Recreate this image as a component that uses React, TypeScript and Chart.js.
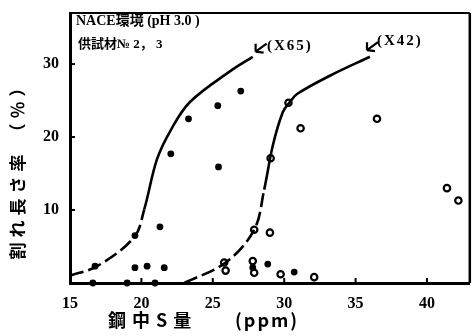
import React, { useEffect, useRef } from "react";
import { Chart, registerables } from "chart.js";
Chart.register(...registerables);

// axis ticks
const xTicks = [15, 20, 25, 30, 35, 40];
const yTicks = [10, 20, 30];

// X65 specimens (filled dots)
const x65X = [16.6, 19.0, 20.95, 16.75, 19.55, 19.55, 20.4, 21.6, 21.3, 22.06, 23.3, 25.35, 25.4, 26.96, 27.8, 28.85, 30.7];
const x65Y = [0, 0, 0, 2.3, 6.5, 2.1, 2.3, 2.1, 7.7, 17.7, 22.5, 24.3, 15.9, 26.3, 2.1, 2.6, 1.5];

// X42 specimens (open circles)
const x42X = [25.8, 25.9, 27.8, 27.9, 27.9, 29.0, 29.05, 29.75, 30.3, 31.15, 32.1, 36.5, 41.4, 42.2];
const x42Y = [2.8, 1.7, 3.0, 1.4, 7.3, 6.9, 17.1, 1.2, 24.7, 21.2, 0.8, 22.5, 13.0, 11.3];

// hand-drawn trend curves
const curve65X = [15, 16.9, 19.5, 20.2, 21.1, 22.1, 23.4, 26.2, 27.8];
const curve65Y = [1.0, 2.3, 6.3, 10.1, 17.0, 21.1, 24.8, 29.0, 31.0];
const curve42X = [23.0, 25.9, 27.9, 28.6, 29.2, 29.9, 30.4, 30.9, 33.2, 36.0];
const curve42Y = [0, 2.8, 7.3, 12.8, 18.8, 23.4, 24.8, 25.9, 28.4, 31.0];

const zip = (xs: number[], ys: number[]) => xs.map((x, i) => ({ x, y: ys[i] }));

const SERIF = "'Liberation Serif', 'Noto Sans CJK JP', serif";
const CJK = "'Noto Sans CJK JP', 'Liberation Serif', sans-serif";

const overlay = {
  id: "overlay",
  afterDraw(chart: any) {
    const { ctx, chartArea, scales } = chart;
    const xs = scales.x, ys = scales.y;
    ctx.save();
    ctx.strokeStyle = "#000";
    ctx.fillStyle = "#000";
    // frame top / right
    ctx.lineWidth = 2;
    ctx.beginPath();
    ctx.moveTo(chartArea.left, chartArea.top);
    ctx.lineTo(chartArea.right, chartArea.top);
    ctx.stroke();
    ctx.lineWidth = 2.5;
    ctx.beginPath();
    ctx.moveTo(chartArea.right, chartArea.top);
    ctx.lineTo(chartArea.right, chartArea.bottom);
    ctx.stroke();
    // inside tick marks
    ctx.lineWidth = 2;
    for (const v of xTicks) {
      if (v === 15) continue;
      const px = xs.getPixelForValue(v);
      ctx.beginPath();
      ctx.moveTo(px, chartArea.bottom);
      ctx.lineTo(px, chartArea.bottom - 5);
      ctx.stroke();
    }
    for (const v of yTicks) {
      const py = ys.getPixelForValue(v);
      ctx.beginPath();
      ctx.moveTo(chartArea.left, py);
      ctx.lineTo(chartArea.left + 5, py);
      ctx.stroke();
    }
    // annotation texts
    ctx.textBaseline = "middle";
    ctx.textAlign = "left";
    ctx.font = `bold 14px ${SERIF}`;
    ctx.fillText("NACE環境 (pH 3.0 )", chartArea.left + 6, chartArea.top + 8);
    ctx.font = `bold 13px ${SERIF}`;
    ctx.fillText("供試材№ 2， 3", chartArea.left + 8, chartArea.top + 32);
    ctx.font = `bold 15px ${SERIF}`;
    (ctx as any).letterSpacing = "2px";
    ctx.fillText("(X65)", xs.getPixelForValue(28.8), ys.getPixelForValue(32.5));
    ctx.fillText("(X42)", xs.getPixelForValue(36.5), ys.getPixelForValue(33.1));
    (ctx as any).letterSpacing = "0px";
    // arrows
    const arrow = (dx: number, dy: number) => {
      const tx = xs.getPixelForValue(dx), ty = ys.getPixelForValue(dy);
      ctx.lineWidth = 2.2;
      ctx.beginPath();
      ctx.moveTo(tx, ty);
      ctx.lineTo(tx + 11, ty - 8);
      ctx.moveTo(tx, ty);
      ctx.lineTo(tx, ty - 8);
      ctx.moveTo(tx, ty);
      ctx.lineTo(tx + 8, ty + 1);
      ctx.stroke();
    };
    arrow(28.0, 31.7);
    arrow(35.8, 31.9);
    // axis titles
    ctx.font = `bold 18px ${CJK}`;
    ctx.textAlign = "left";
    (ctx as any).letterSpacing = "6px";
    ctx.fillText("鋼中S量", 108, 320);
    (ctx as any).letterSpacing = "2px";
    ctx.fillText("(ppm)", 235, 320);
    ctx.translate(18, 167);
    ctx.rotate(-Math.PI / 2);
    ctx.textAlign = "center";
    (ctx as any).letterSpacing = "5px";
    ctx.font = `bold 17px ${CJK}`;
    ctx.fillText("割れ長さ率 （％）", 0, 0);
    ctx.restore();
  },
};

export default function App() {
  const ref = useRef<HTMLCanvasElement>(null);
  useEffect(() => {
    document.body.style.margin = "0";
    const chart = new Chart(ref.current!, {
      type: "scatter",
      data: {
        datasets: [
          {
            data: zip(curve65X, curve65Y),
            showLine: true,
            borderColor: "#000",
            borderWidth: 2.6,
            pointRadius: 0,
            tension: 0.35,
            segment: { borderDash: (c: any) => (c.p1.parsed.y <= 10.2 ? [14, 5] : undefined) },
          },
          {
            data: zip(curve42X, curve42Y),
            showLine: true,
            borderColor: "#000",
            borderWidth: 2.6,
            pointRadius: 0,
            tension: 0.35,
            segment: { borderDash: (c: any) => (c.p1.parsed.y <= 13 ? [14, 5] : undefined) },
          },
          {
            data: zip(x65X, x65Y),
            backgroundColor: "#000",
            borderColor: "#000",
            pointRadius: 3.4,
            borderWidth: 0,
            clip: false,
          } as any,
          {
            data: zip(x42X, x42Y),
            backgroundColor: "#fff",
            borderColor: "#000",
            pointRadius: 3.2,
            borderWidth: 2.2,
            clip: false,
          } as any,
        ],
      },
      options: {
        animation: false,
        responsive: false,
        events: [],
        layout: { padding: { top: 13, right: 4, left: 0, bottom: 0 } },
        plugins: { legend: { display: false }, tooltip: { enabled: false } },
        scales: {
          x: {
            type: "linear",
            min: 15,
            max: 43,
            afterBuildTicks: (s: any) => { s.ticks = xTicks.map((v) => ({ value: v })); },
            afterFit: (s: any) => { s.height = 53; },
            grid: { display: false },
            border: { display: true, color: "#000", width: 3 },
            ticks: { color: "#000", font: { family: SERIF, size: 16, weight: "bold" }, padding: 3, maxRotation: 0 },
          },
          y: {
            type: "linear",
            min: 0,
            max: 37,
            afterBuildTicks: (s: any) => { s.ticks = yTicks.map((v) => ({ value: v })); },
            afterFit: (s: any) => { s.width = 70; },
            grid: { display: false },
            border: { display: true, color: "#000", width: 3 },
            ticks: { color: "#000", font: { family: SERIF, size: 16, weight: "bold" }, padding: 3 },
          },
        },
      },
      plugins: [overlay],
    });
    return () => chart.destroy();
  }, []);
  return (
    <div style={{ position: "fixed", left: 0, top: 0, width: 476, height: 336, background: "#fff" }}>
      <canvas ref={ref} width={476} height={336} />
    </div>
  );
}
